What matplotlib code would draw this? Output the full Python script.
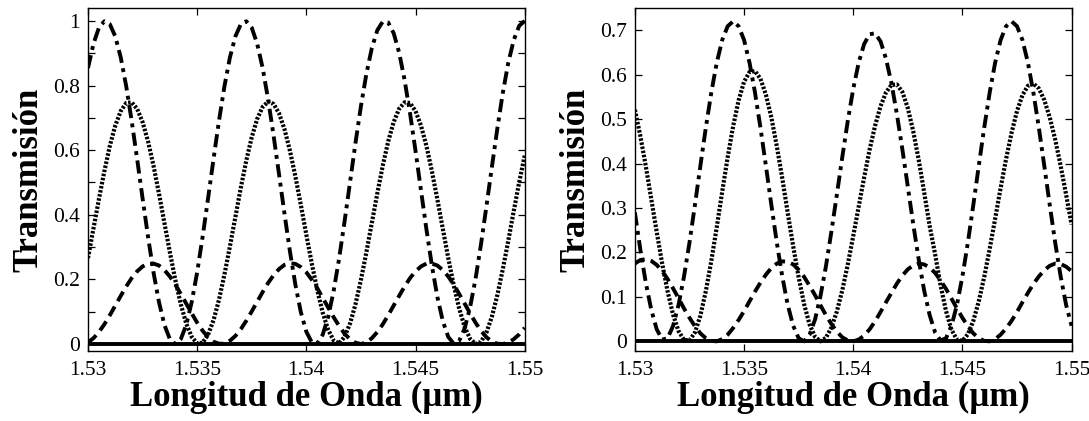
import numpy as np
import matplotlib
matplotlib.use("Agg")
import matplotlib.pyplot as plt
from matplotlib.ticker import MultipleLocator

# Wavelength samples (um), 1.530 .. 1.550 every 0.25 nm
wavelength = np.linspace(1.53, 1.55, 81)

# ---- Left panel series ----
left_dashdot = [0.854, 0.929, 0.979, 0.999, 0.990, 0.952, 0.887, 0.798, 0.691, 0.573,
                0.451, 0.332, 0.222, 0.130, 0.059, 0.015, 0.000, 0.015, 0.059, 0.130,
                0.222, 0.332, 0.451, 0.573, 0.691, 0.798, 0.887, 0.952, 0.990, 0.999,
                0.979, 0.929, 0.854, 0.757, 0.645, 0.525, 0.403, 0.286, 0.183, 0.098,
                0.038, 0.005, 0.002, 0.029, 0.084, 0.164, 0.264, 0.379, 0.500, 0.622,
                0.736, 0.836, 0.916, 0.971, 0.998, 0.995, 0.962, 0.902, 0.817, 0.714,
                0.598, 0.476, 0.355, 0.243, 0.146, 0.071, 0.022, 0.001, 0.010, 0.048,
                0.114, 0.202, 0.309, 0.427, 0.549, 0.668, 0.778, 0.871, 0.941, 0.985,
                1.000]
left_dotted = [0.266, 0.357, 0.448, 0.535, 0.613, 0.676, 0.721, 0.746, 0.748, 0.728,
               0.687, 0.627, 0.552, 0.466, 0.375, 0.284, 0.198, 0.123, 0.063, 0.022,
               0.002, 0.004, 0.029, 0.074, 0.137, 0.215, 0.302, 0.393, 0.484, 0.568,
               0.640, 0.697, 0.734, 0.750, 0.743, 0.714, 0.665, 0.598, 0.518, 0.430,
               0.338, 0.249, 0.167, 0.097, 0.044, 0.011, 0.002, 0.022, 0.063, 0.123,
               0.198, 0.284, 0.375, 0.466, 0.552, 0.627, 0.687, 0.728, 0.748, 0.746,
               0.721, 0.676, 0.613, 0.535, 0.448, 0.357, 0.266, 0.182, 0.110, 0.053,
               0.016, 0.000, 0.007, 0.036, 0.085, 0.152, 0.232, 0.320, 0.412, 0.501,
               0.583]
left_dashed = [0.005, 0.018, 0.037, 0.061, 0.089, 0.119, 0.149, 0.178, 0.204, 0.225,
               0.240, 0.249, 0.249, 0.243, 0.229, 0.209, 0.184, 0.155, 0.125, 0.095,
               0.066, 0.041, 0.021, 0.007, 0.001, 0.001, 0.010, 0.025, 0.046, 0.072,
               0.101, 0.131, 0.161, 0.189, 0.213, 0.232, 0.245, 0.250, 0.248, 0.238,
               0.222, 0.199, 0.173, 0.143, 0.113, 0.083, 0.056, 0.032, 0.015, 0.004,
               0.000, 0.005, 0.018, 0.037, 0.061, 0.089, 0.119, 0.149, 0.178, 0.204,
               0.225, 0.240, 0.249, 0.249, 0.243, 0.229, 0.209, 0.184, 0.155, 0.125,
               0.095, 0.066, 0.041, 0.021, 0.007, 0.001, 0.000, 0.004, 0.015, 0.030,
               0.050]
left_solid = [0.0] * 81

# ---- Right panel series ----
right_dashdot = [0.290, 0.206, 0.132, 0.071, 0.027, 0.004, 0.007, 0.035, 0.082, 0.146,
                 0.222, 0.307, 0.395, 0.481, 0.560, 0.627, 0.678, 0.709, 0.720, 0.709,
                 0.678, 0.627, 0.560, 0.481, 0.395, 0.307, 0.222, 0.146, 0.082, 0.035,
                 0.007, 0.000, 0.015, 0.049, 0.102, 0.169, 0.247, 0.330, 0.415, 0.496,
                 0.568, 0.627, 0.669, 0.691, 0.693, 0.675, 0.636, 0.581, 0.511, 0.432,
                 0.348, 0.263, 0.184, 0.114, 0.059, 0.020, 0.002, 0.007, 0.035, 0.082,
                 0.146, 0.222, 0.307, 0.395, 0.481, 0.560, 0.627, 0.678, 0.709, 0.720,
                 0.709, 0.678, 0.627, 0.560, 0.481, 0.395, 0.307, 0.222, 0.146, 0.082,
                 0.035]
right_dotted = [0.521, 0.462, 0.394, 0.320, 0.246, 0.175, 0.112, 0.060, 0.023, 0.003,
                0.002, 0.020, 0.058, 0.113, 0.181, 0.257, 0.337, 0.414, 0.484, 0.542,
                0.584, 0.606, 0.608, 0.591, 0.555, 0.504, 0.439, 0.367, 0.289, 0.214,
                0.144, 0.084, 0.038, 0.010, 0.000, 0.008, 0.031, 0.067, 0.115, 0.173,
                0.237, 0.303, 0.369, 0.431, 0.485, 0.529, 0.560, 0.577, 0.578, 0.561,
                0.525, 0.472, 0.408, 0.335, 0.260, 0.196, 0.126, 0.068, 0.026, 0.004,
                0.001, 0.016, 0.046, 0.090, 0.145, 0.208, 0.276, 0.345, 0.410, 0.469,
                0.518, 0.554, 0.575, 0.580, 0.569, 0.543, 0.504, 0.454, 0.395, 0.330,
                0.263]
right_dashed = [0.175, 0.183, 0.185, 0.181, 0.172, 0.158, 0.140, 0.119, 0.097, 0.074,
                0.053, 0.034, 0.018, 0.007, 0.001, 0.000, 0.005, 0.015, 0.030, 0.048,
                0.068, 0.090, 0.112, 0.132, 0.150, 0.165, 0.175, 0.180, 0.179, 0.173,
                0.161, 0.145, 0.125, 0.104, 0.081, 0.059, 0.039, 0.022, 0.009, 0.002,
                0.000, 0.004, 0.013, 0.027, 0.045, 0.066, 0.088, 0.109, 0.130, 0.148,
                0.162, 0.171, 0.175, 0.173, 0.166, 0.154, 0.137, 0.118, 0.096, 0.074,
                0.053, 0.034, 0.018, 0.007, 0.001, 0.000, 0.005, 0.015, 0.029, 0.046,
                0.066, 0.088, 0.109, 0.129, 0.146, 0.160, 0.170, 0.175, 0.174, 0.168,
                0.158]
right_solid = [0.0] * 81

x_ticks = [1.53, 1.535, 1.54, 1.545, 1.55]
x_ticklabels = ["1.53", "1.535", "1.54", "1.545", "1.55"]
left_yticks = [0, 0.2, 0.4, 0.6, 0.8, 1.0]
left_yticklabels = ["0", "0.2", "0.4", "0.6", "0.8", "1"]
right_yticks = [0, 0.1, 0.2, 0.3, 0.4, 0.5, 0.6, 0.7]
right_yticklabels = ["0", "0.1", "0.2", "0.3", "0.4", "0.5", "0.6", "0.7"]
xlabel = "Longitud de Onda (\u00b5m)"
ylabel = "Transmisi\u00f3n"

plt.rcParams['font.family'] = ['Liberation Serif', 'DejaVu Serif']

fig = plt.figure(figsize=(10.89, 4.21), dpi=100)
ax1 = fig.add_axes([0.0808, 0.166, 0.401, 0.815])
ax2 = fig.add_axes([0.583, 0.166, 0.401, 0.815])

DD = dict(color='black', lw=2.8, dashes=(3.4, 1.4, 1.0, 1.4), dash_capstyle='butt')
DT = dict(color='black', lw=3.0, dashes=(0.6, 0.4), dash_capstyle='butt')
DS = dict(color='black', lw=2.8, dashes=(2.8, 1.6), dash_capstyle='butt')
SL = dict(color='black', lw=2.8, solid_capstyle='butt')


def draw(ax, dd, dt, ds, sl, yticks, yticklabels, ylim, minor):
    ax.plot(wavelength, sl, **SL)
    ax.plot(wavelength, ds, **DS)
    ax.plot(wavelength, dt, **DT)
    ax.plot(wavelength, dd, **DD)
    ax.set_xlim(1.53, 1.55)
    ax.set_ylim(*ylim)
    ax.set_xticks(x_ticks)
    ax.set_xticklabels(x_ticklabels)
    ax.set_yticks(yticks)
    ax.set_yticklabels(yticklabels)
    if minor:
        ax.yaxis.set_minor_locator(MultipleLocator(minor))
    ax.tick_params(which='both', direction='in', top=True, right=True,
                   length=5, width=0.9, labelsize=15.5, pad=6)
    ax.tick_params(axis='x', pad=7)
    for s in ax.spines.values():
        s.set_linewidth(1.0)
    ax.set_xlabel(xlabel, fontsize=25, fontweight='bold', labelpad=1)
    ax.set_ylabel(ylabel, fontsize=25, fontweight='bold', labelpad=5)


draw(ax1, left_dashdot, left_dotted, left_dashed, left_solid,
     left_yticks, left_yticklabels, (-0.022, 1.04), 0.1)
draw(ax2, right_dashdot, right_dotted, right_dashed, right_solid,
     right_yticks, right_yticklabels, (-0.022, 0.75), None)

fig.savefig("out.png", dpi=100)
